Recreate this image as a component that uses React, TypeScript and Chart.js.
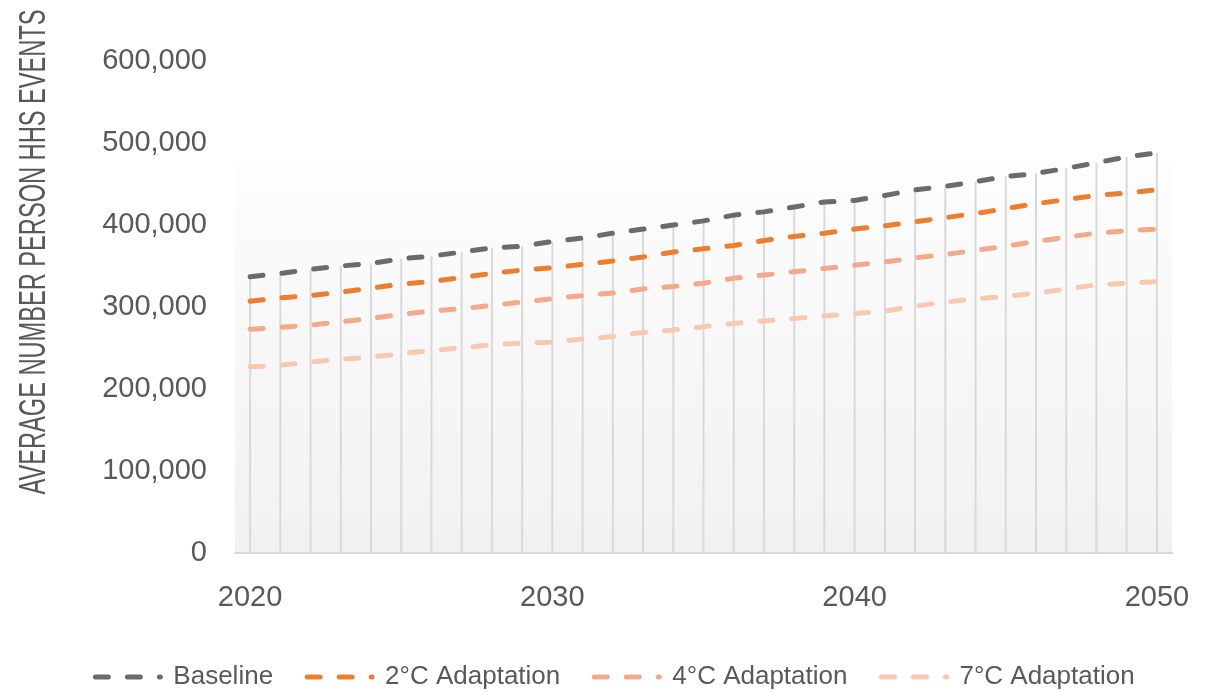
import React, { useEffect, useRef } from "react";
import { Chart, registerables } from "chart.js";

Chart.register(...registerables);

const years: string[] = [
  "2020", "2021", "2022", "2023", "2024", "2025", "2026", "2027", "2028", "2029",
  "2030", "2031", "2032", "2033", "2034", "2035", "2036", "2037", "2038", "2039",
  "2040", "2041", "2042", "2043", "2044", "2045", "2046", "2047", "2048", "2049", "2050",
];

const baseline: number[] = [
  337000, 341000, 346000, 350000, 353000, 359000, 362000, 367000, 372000, 374000,
  380000, 384000, 390000, 395000, 400000, 405000, 412000, 416000, 422000, 428000,
  430000, 436000, 443000, 447000, 453000, 459000, 463000, 469000, 476000, 483000, 488000,
];

const adapt2C: number[] = [
  307000, 311000, 314000, 318000, 323000, 328000, 331000, 336000, 341000, 345000,
  348000, 352000, 356000, 361000, 367000, 371000, 375000, 381000, 386000, 390000,
  395000, 399000, 404000, 409000, 414000, 420000, 426000, 431000, 436000, 439000, 443000,
];

const adapt4C: number[] = [
  273000, 275000, 278000, 282000, 286000, 291000, 295000, 298000, 302000, 306000,
  310000, 314000, 317000, 322000, 325000, 329000, 335000, 339000, 343000, 347000,
  351000, 355000, 360000, 364000, 369000, 374000, 380000, 385000, 390000, 393000, 395000,
];

const adapt7C: number[] = [
  227000, 229000, 233000, 236000, 239000, 243000, 247000, 250000, 254000, 256000,
  257000, 261000, 264000, 269000, 272000, 276000, 280000, 283000, 286000, 289000,
  292000, 295000, 301000, 306000, 310000, 313000, 317000, 322000, 327000, 329000, 331000,
];

const seriesNames: string[] = ["Baseline", "2°C Adaptation", "4°C Adaptation", "7°C Adaptation"];
const seriesColors: string[] = ["#6b6b6b", "#ED7D31", "#F3A98A", "#F8C8B3"];
const yTicks: number[] = [0, 100000, 200000, 300000, 400000, 500000, 600000];
const yAxisTitle = "AVERAGE NUMBER PERSON HHS EVENTS";

const FONT = "'Liberation Sans', Arial, sans-serif";
const TEXT_COLOR = "#595959";
const DASH = [13, 19];

const backgroundPlugin = {
  id: "plotBackground",
  beforeDraw(chart: any) {
    const { ctx, chartArea, scales } = chart;
    const top = scales.y.getPixelForValue(477000);
    const g = ctx.createLinearGradient(0, top, 0, chartArea.bottom);
    g.addColorStop(0, "#fdfdfd");
    g.addColorStop(1, "#f1f1f1");
    ctx.save();
    ctx.fillStyle = g;
    ctx.fillRect(chartArea.left, top, chartArea.right - chartArea.left, chartArea.bottom - top);
    ctx.restore();
  },
};

const dropLinePlugin = {
  id: "dropLines",
  beforeDatasetsDraw(chart: any) {
    const { ctx, chartArea } = chart;
    const meta = chart.getDatasetMeta(0);
    ctx.save();
    ctx.strokeStyle = "#d9d9d9";
    ctx.lineWidth = 2;
    meta.data.forEach((pt: any) => {
      ctx.beginPath();
      ctx.moveTo(pt.x, pt.y);
      ctx.lineTo(pt.x, chartArea.bottom);
      ctx.stroke();
    });
    ctx.restore();
  },
};

const axisTitlePlugin = {
  id: "yAxisTitleCondensed",
  afterDraw(chart: any) {
    const { ctx, chartArea } = chart;
    ctx.save();
    ctx.font = `36px ${FONT}`;
    ctx.fillStyle = TEXT_COLOR;
    ctx.textAlign = "center";
    ctx.textBaseline = "middle";
    const w = ctx.measureText(yAxisTitle).width;
    const target = 485;
    ctx.translate(35, chartArea.top + 191);
    ctx.rotate(-Math.PI / 2);
    ctx.scale(target / w, 1);
    ctx.fillText(yAxisTitle, 0, 0);
    ctx.restore();
  },
};

export default function App() {
  const canvasRef = useRef<HTMLCanvasElement | null>(null);

  useEffect(() => {
    if (!canvasRef.current) return;
    const seriesData = [baseline, adapt2C, adapt4C, adapt7C];
    const chart = new Chart(canvasRef.current, {
      type: "line",
      data: {
        labels: years,
        datasets: seriesNames.map((name, i) => ({
          label: name,
          data: seriesData[i],
          borderColor: seriesColors[i],
          backgroundColor: seriesColors[i],
          borderWidth: 5,
          borderDash: DASH,
          borderCapStyle: "round" as const,
          pointRadius: 0,
          pointHoverRadius: 0,
          tension: 0,
          fill: false,
        })),
      },
      options: {
        animation: false,
        responsive: true,
        maintainAspectRatio: false,
        layout: { padding: { top: 61, left: 58, right: 40, bottom: -8 } },
        plugins: {
          tooltip: { enabled: false },
          legend: {
            position: "bottom",
            labels: {
              usePointStyle: true,
              pointStyle: "line",
              pointStyleWidth: 65,
              padding: 34,
              color: TEXT_COLOR,
              font: { family: FONT, size: 26 },
              generateLabels: (c: any) => {
                const items = Chart.defaults.plugins.legend.labels.generateLabels(c);
                return items.map((it: any, i: number) => ({
                  ...it,
                  strokeStyle: seriesColors[i],
                  fillStyle: seriesColors[i],
                  lineWidth: 5,
                  lineDash: DASH,
                  lineDashOffset: 0,
                  lineCap: "round",
                  pointStyle: "line",
                }));
              },
            },
          },
        },
        scales: {
          x: {
            type: "category",
            offset: true,
            grid: { display: false, drawTicks: false },
            border: { display: true, color: "#d9d9d9", width: 2 },
            afterFit: (scale: any) => {
              scale.height = 77;
              scale.paddingLeft = 0;
              scale.paddingRight = 0;
            },
            ticks: {
              autoSkip: false,
              maxRotation: 0,
              padding: 28,
              color: TEXT_COLOR,
              font: { family: FONT, size: 29 },
              callback: (_v: any, idx: number) => (Number(years[idx]) % 10 === 0 ? years[idx] : ""),
            },
          },
          y: {
            min: 0,
            max: 600000,
            afterBuildTicks: (scale: any) => {
              scale.ticks = yTicks.map((v) => ({ value: v }));
            },
            afterFit: (scale: any) => {
              scale.width = 177;
            },
            grid: { display: false, drawTicks: false },
            border: { display: false },
            ticks: {
              padding: 28,
              color: TEXT_COLOR,
              font: { family: FONT, size: 29 },
              callback: (v: any) => Number(v).toLocaleString("en-US"),
            },
          },
        },
      },
      plugins: [backgroundPlugin, dropLinePlugin, axisTitlePlugin],
    });
    return () => chart.destroy();
  }, []);

  return (
    <div style={{ position: "fixed", left: 0, top: 0, width: "1212px", height: "692px" }}>
      <canvas ref={canvasRef} />
    </div>
  );
}
